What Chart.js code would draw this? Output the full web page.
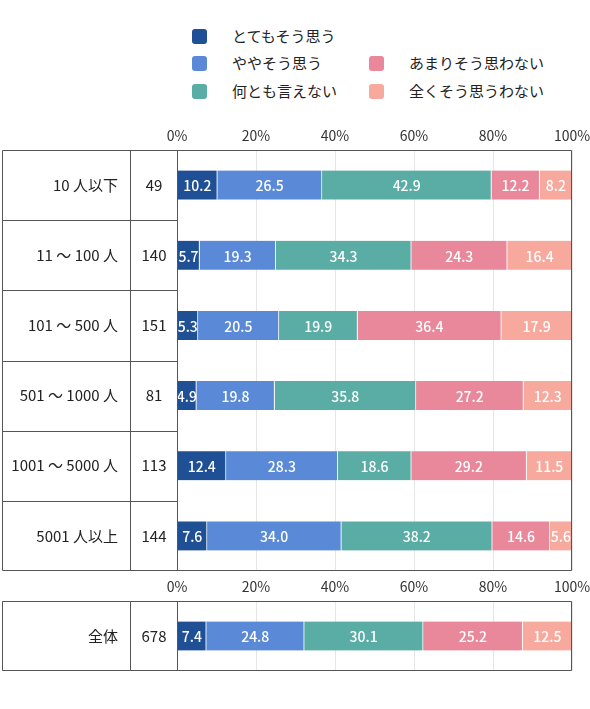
<!DOCTYPE html>
<html lang="ja">
<head>
<meta charset="utf-8">
<title>従業員規模別</title>
<script src="https://cdn.jsdelivr.net/npm/chart.js@4/dist/chart.umd.min.js"></script>
<style>
  body { margin: 0; background: #fff; font-family: "Noto Sans CJK JP", sans-serif; color: #222; }
  #page { position: relative; width: 590px; height: 709px; overflow: hidden; }
  .key { position: absolute; height: 15px; font-size: 15px; white-space: nowrap; }
  .key i { position: absolute; left: 0; top: 0; width: 15px; height: 15px; border-radius: 3px; }
  .key span { position: absolute; left: 40px; top: -3px; line-height: 20px; }
  #main { position: absolute; left: 0; top: 100px; }
  #total { position: absolute; left: 0; top: 575px; }
</style>
</head>
<body>
<div id="page">
  <div id="legend"></div>
  <canvas id="main" width="590" height="475"></canvas>
  <canvas id="total" width="590" height="100"></canvas>
</div>
<script>
// Data
const categories = ['10 人以下', '11 〜 100 人', '101 〜 500 人', '501 〜 1000 人', '1001 〜 5000 人', '5001 人以上'];
const counts = [49, 140, 151, 81, 113, 144];

const seriesNames = ['とてもそう思う', 'ややそう思う', '何とも言えない', 'あまりそう思わない', '全くそう思うわない'];
const veryAgree = [10.2, 5.7, 5.3, 4.9, 12.4, 7.6];
const somewhatAgree = [26.5, 19.3, 20.5, 19.8, 28.3, 34.0];
const neutral = [42.9, 34.3, 19.9, 35.8, 18.6, 38.2];
const somewhatDisagree = [12.2, 24.3, 36.4, 27.2, 29.2, 14.6];
const stronglyDisagree = [8.2, 16.4, 17.9, 12.3, 11.5, 5.6];

const totalCategory = ['全体'];
const totalCount = [678];
const totalValues = [7.4, 24.8, 30.1, 25.2, 12.5];

const xTicks = [0, 20, 40, 60, 80, 100];

const colors = ['#1f4f95', '#5a8ad7', '#5aada5', '#e8889a', '#f6a99c'];
const lineColor = '#555';
const font = '"Noto Sans CJK JP", sans-serif';

// Legend (two columns, second column starts on row 2)
const legendPos = [[192, 29], [192, 56], [192, 84], [369, 56], [369, 84]];
const legend = document.getElementById('legend');
seriesNames.forEach((name, i) => {
  const item = document.createElement('div');
  item.className = 'key';
  item.style.left = legendPos[i][0] + 'px';
  item.style.top = legendPos[i][1] + 'px';
  item.innerHTML = '<i style="background:' + colors[i] + '"></i><span>' + name + '</span>';
  legend.appendChild(item);
});

// Table lines, row labels, counts and value labels
const tablePlugin = {
  id: 'table',
  afterDatasetsDraw(chart) {
    const ctx = chart.ctx;
    ctx.save();
    ctx.fillStyle = '#fff';
    ctx.font = '500 14px ' + font;
    ctx.textAlign = 'center';
    ctx.textBaseline = 'middle';
    chart.data.datasets.forEach((ds, i) => {
      chart.getDatasetMeta(i).data.forEach((bar, j) => {
        const v = ds.data[j];
        ctx.fillText(v.toFixed(1), (bar.x + bar.base) / 2, bar.y + 1);
      });
    });
    ctx.restore();
  },
  afterDraw(chart) {
    const ctx = chart.ctx;
    const area = chart.chartArea;
    const y = chart.scales.y;
    const opts = chart.options.plugins.table;
    const n = chart.data.labels.length;
    const rowH = (area.bottom - area.top) / n;
    const left = 2.5, midX = 130.5, chartX = Math.round(area.left) + 0.5;
    const right = Math.round(area.right) - 0.5;
    const top = Math.round(area.top) + 0.5, bottom = Math.round(area.bottom) - 0.5;

    ctx.save();
    ctx.strokeStyle = lineColor;
    ctx.lineWidth = 1;
    ctx.beginPath();
    ctx.rect(left, top, right - left, bottom - top);
    ctx.moveTo(midX, top); ctx.lineTo(midX, bottom);
    ctx.moveTo(chartX, top); ctx.lineTo(chartX, bottom);
    for (let i = 1; i < n; i++) {
      const ry = Math.round(area.top + i * rowH) + 0.5;
      ctx.moveTo(left, ry); ctx.lineTo(chartX, ry);
    }
    ctx.stroke();

    ctx.fillStyle = '#222';
    ctx.font = '15px ' + font;
    ctx.textBaseline = 'middle';
    chart.data.labels.forEach((label, i) => {
      const cy = y.getPixelForValue(i);
      ctx.textAlign = 'right';
      ctx.fillText(label, 118, cy);
      ctx.textAlign = 'center';
      ctx.fillText(String(opts.counts[i]), 154, cy);
    });
    ctx.restore();
  }
};

function makeChart(id, labels, datasets, countList, axisHeight) {
  return new Chart(document.getElementById(id), {
    type: 'bar',
    data: {
      labels: labels,
      datasets: datasets.map((data, i) => ({
        label: seriesNames[i],
        data: data,
        backgroundColor: colors[i],
        borderColor: 'rgba(255,255,255,0.85)',
        borderWidth: { top: 0, bottom: 0, left: 0, right: 1 },
        borderSkipped: false,
        barThickness: 29
      }))
    },
    options: {
      indexAxis: 'y',
      responsive: false,
      animation: false,
      devicePixelRatio: 1,
      layout: { padding: { left: 0, right: 18, top: 0, bottom: 4 } },
      plugins: {
        legend: { display: false },
        tooltip: { enabled: false },
        table: { counts: countList }
      },
      scales: {
        x: {
          position: 'top',
          stacked: true,
          min: 0,
          max: 100,
          afterBuildTicks(scale) {
            scale.ticks = xTicks.map(v => ({ value: v }));
          },
          afterFit(scale) {
            // keep the plot edge fixed; the 100% label may overhang
            scale.height = axisHeight;
            scale.paddingLeft = 0;
            scale.paddingRight = 0;
          },
          grid: { color: '#e6e6e6', drawTicks: false },
          border: { display: false },
          ticks: {
            padding: 6,
            color: '#333',
            font: { family: font, size: 14 },
            maxRotation: 0,
            callback: v => v + '%'
          }
        },
        y: {
          stacked: true,
          afterFit(scale) { scale.width = 177; },
          grid: { display: false },
          border: { display: false },
          ticks: { display: false }
        }
      }
    },
    plugins: [tablePlugin]
  });
}

makeChart('main', categories,
  [veryAgree, somewhatAgree, neutral, somewhatDisagree, stronglyDisagree],
  counts, 50);

makeChart('total', totalCategory,
  totalValues.map(v => [v]),
  totalCount, 26);
</script>
</body>
</html>
